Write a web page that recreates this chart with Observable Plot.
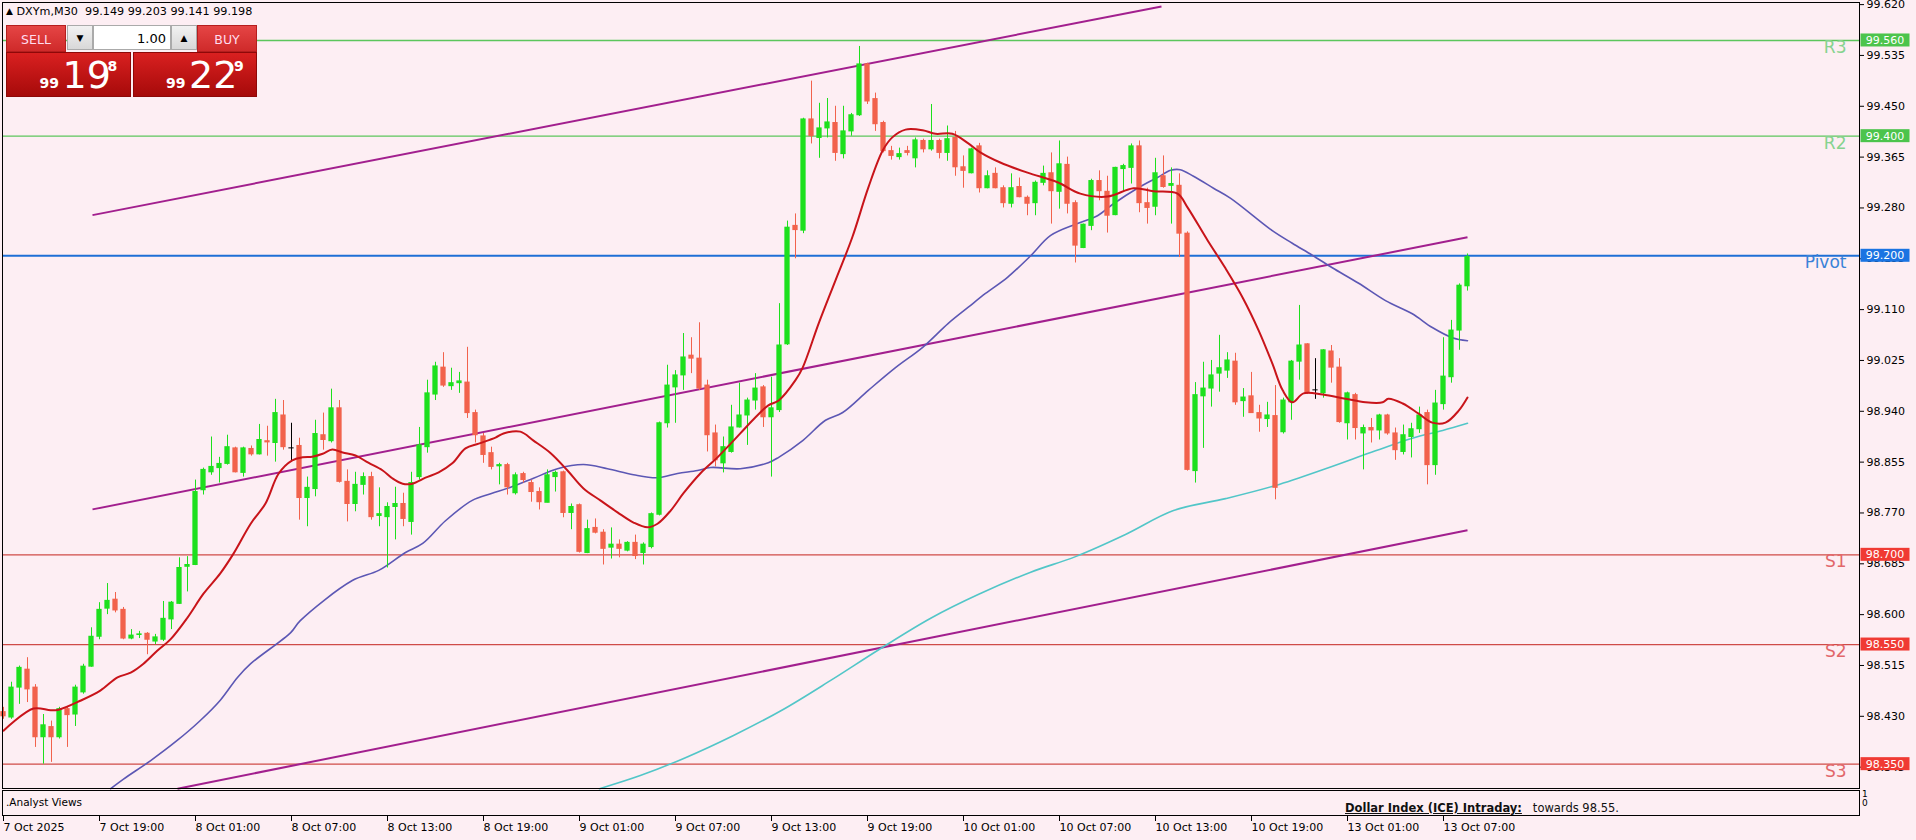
<!DOCTYPE html>
<html><head><meta charset="utf-8">
<script src="https://cdn.jsdelivr.net/npm/d3@7"></script>
<script src="https://cdn.jsdelivr.net/npm/@observablehq/plot@0.6"></script>
<style>
html,body{margin:0;padding:0;background:#fdeef3;}
#wrap{position:relative;width:1916px;height:840px;overflow:hidden;font-family:"DejaVu Sans",sans-serif;background:#fdeef3;}
#wrap svg{position:absolute;left:0;top:0;}
.ov{position:absolute;box-sizing:border-box;}
</style></head><body><div id="wrap"></div>
<script>
// ---------- data (M30 candles, DXYm) ----------
const opens  = [98.437,98.428,98.478,98.508,98.478,98.395,98.412,98.395,98.442,98.433,98.470,98.513,98.563,98.610,98.625,98.608,98.560,98.566,98.568,98.555,98.558,98.592,98.618,98.680,98.683,98.808,98.838,98.845,98.852,98.878,98.837,98.877,98.868,98.890,98.887,98.933,98.878,98.882,98.795,98.810,98.900,98.890,98.945,98.822,98.785,98.817,98.830,98.765,98.763,98.780,98.785,98.755,98.830,98.880,98.968,99.013,98.982,98.987,98.988,98.937,98.898,98.870,98.848,98.850,98.803,98.835,98.820,98.805,98.787,98.830,98.838,98.770,98.783,98.703,98.745,98.737,98.712,98.717,98.707,98.720,98.703,98.713,98.767,98.920,98.980,99.000,99.033,99.028,98.983,98.903,98.853,98.872,98.913,98.933,98.958,98.980,98.930,98.942,99.052,99.250,99.242,99.428,99.397,99.413,99.422,99.370,99.408,99.435,99.520,99.462,99.422,99.375,99.365,99.375,99.363,99.392,99.378,99.392,99.372,99.397,99.348,99.338,99.383,99.313,99.337,99.313,99.287,99.315,99.297,99.288,99.322,99.338,99.307,99.352,99.288,99.213,99.250,99.325,99.307,99.268,99.345,99.347,99.383,99.288,99.282,99.333,99.317,99.317,99.237,98.840,98.965,98.978,99.003,99.008,99.023,98.957,98.965,98.937,98.927,98.932,98.905,98.955,99.023,99.052,98.975,98.970,99.040,99.013,98.920,98.967,98.903,98.912,98.908,98.933,98.903,98.872,98.897,98.910,98.937,98.850,98.952,98.997,99.075,99.149];
const highs  = [98.445,98.487,98.514,98.528,98.483,98.433,98.422,98.445,98.445,98.482,98.517,98.578,98.620,98.652,98.637,98.612,98.575,98.572,98.570,98.567,98.622,98.622,98.695,98.697,98.825,98.845,98.897,98.863,98.900,98.880,98.880,98.882,98.918,98.915,98.960,98.958,98.920,98.895,98.830,98.925,98.937,98.977,98.958,98.842,98.838,98.837,98.838,98.812,98.787,98.813,98.803,98.838,98.913,98.992,99.022,99.038,99.012,99.005,99.047,98.942,98.903,98.880,98.853,98.853,98.837,98.838,98.825,98.812,98.842,98.840,98.840,98.785,98.785,98.758,98.760,98.742,98.745,98.725,98.722,98.733,98.720,98.770,98.922,99.017,99.008,99.070,99.063,99.088,98.992,98.917,98.897,98.950,98.987,98.962,99.003,98.983,98.997,99.120,99.258,99.270,99.430,99.492,99.455,99.463,99.450,99.450,99.438,99.550,99.522,99.472,99.425,99.383,99.380,99.383,99.397,99.395,99.453,99.395,99.417,99.408,99.367,99.380,99.388,99.342,99.347,99.317,99.337,99.330,99.300,99.325,99.350,99.372,99.392,99.365,99.292,99.253,99.328,99.342,99.333,99.348,99.353,99.387,99.392,99.313,99.363,99.367,99.347,99.337,99.240,98.988,99.022,99.025,99.067,99.038,99.037,98.978,99.005,98.950,98.955,98.983,98.962,99.025,99.117,99.053,99.028,99.043,99.050,99.028,98.972,98.970,98.917,98.928,98.935,98.935,98.912,98.917,98.920,98.947,98.942,98.975,99.063,99.092,99.153,99.203];
const lows   = [98.425,98.425,98.450,98.453,98.378,98.350,98.353,98.392,98.378,98.413,98.467,98.512,98.558,98.600,98.603,98.558,98.558,98.560,98.533,98.550,98.555,98.575,98.617,98.638,98.682,98.800,98.833,98.820,98.850,98.837,98.830,98.865,98.867,98.865,98.855,98.875,98.855,98.758,98.747,98.797,98.875,98.887,98.820,98.755,98.772,98.800,98.758,98.747,98.678,98.725,98.747,98.733,98.825,98.870,98.958,98.980,98.975,98.970,98.928,98.887,98.853,98.842,98.817,98.800,98.800,98.820,98.788,98.775,98.787,98.805,98.762,98.742,98.703,98.702,98.735,98.683,98.693,98.695,98.705,98.692,98.683,98.710,98.765,98.912,98.920,98.975,99.003,98.975,98.872,98.847,98.837,98.870,98.912,98.883,98.942,98.913,98.830,98.938,99.050,99.195,99.237,99.387,99.363,99.397,99.358,99.362,99.400,99.433,99.453,99.408,99.372,99.360,99.360,99.367,99.347,99.372,99.375,99.362,99.358,99.333,99.313,99.337,99.305,99.312,99.312,99.280,99.280,99.297,99.267,99.267,99.317,99.253,99.278,99.270,99.188,99.212,99.242,99.292,99.238,99.267,99.308,99.320,99.272,99.253,99.267,99.313,99.253,99.197,98.840,98.820,98.878,98.947,98.972,98.995,98.950,98.930,98.937,98.905,98.913,98.792,98.902,98.925,98.992,98.968,98.960,98.962,98.987,98.920,98.892,98.892,98.842,98.887,98.892,98.900,98.858,98.867,98.862,98.903,98.817,98.833,98.942,98.987,99.042,99.141];
const closes = [98.430,98.478,98.511,98.475,98.395,98.415,98.395,98.442,98.432,98.478,98.513,98.563,98.608,98.623,98.607,98.560,98.565,98.567,98.558,98.562,98.593,98.620,98.678,98.683,98.805,98.842,98.847,98.852,98.880,98.838,98.878,98.868,98.892,98.888,98.937,98.880,98.878,98.795,98.812,98.902,98.892,98.945,98.822,98.785,98.817,98.830,98.763,98.768,98.780,98.785,98.760,98.820,98.883,98.970,99.015,98.983,98.987,98.990,98.937,98.900,98.867,98.847,98.850,98.813,98.833,98.825,98.805,98.788,98.833,98.837,98.770,98.780,98.705,98.743,98.737,98.710,98.717,98.710,98.720,98.698,98.717,98.768,98.920,98.983,99.000,99.030,99.028,98.978,98.900,98.858,98.880,98.913,98.933,98.958,98.978,98.930,98.945,99.050,99.247,99.243,99.428,99.400,99.413,99.423,99.372,99.408,99.435,99.520,99.458,99.420,99.375,99.367,99.370,99.372,99.393,99.378,99.392,99.372,99.395,99.348,99.342,99.378,99.313,99.333,99.313,99.288,99.313,99.298,99.287,99.322,99.337,99.308,99.353,99.287,99.217,99.252,99.325,99.308,99.267,99.347,99.350,99.383,99.288,99.280,99.338,99.315,99.320,99.237,98.842,98.967,98.978,99.000,99.012,99.025,98.955,98.963,98.937,98.928,98.933,98.812,98.958,99.023,99.050,98.970,98.975,99.042,99.013,98.922,98.970,98.912,98.912,98.908,98.933,98.903,98.875,98.900,98.910,98.933,98.850,98.953,98.998,99.075,99.150,99.198];

// moving averages: [bar, price]
const maRed = [[0,98.406],[3.75,98.443],[5.9,98.440],[6.9,98.441],[9.6,98.456],[12.1,98.473],[14.25,98.495],[15.9,98.503],[17.5,98.518],[19.25,98.540],[20.9,98.559],[23,98.595],[25,98.635],[27.1,98.669],[28.75,98.702],[30.9,98.752],[32.75,98.786],[34.4,98.836],[36.1,98.858],[37.4,98.863],[38.6,98.864],[39.9,98.869],[41.1,98.876],[42.4,98.871],[44,98.866],[45.6,98.854],[47.4,98.841],[48.6,98.828],[49.9,98.819],[51.1,98.819],[52.75,98.829],[54.4,98.838],[56.1,98.853],[57.75,98.878],[59.4,98.886],[61.5,98.896],[62.5,98.903],[64.6,98.906],[66.25,98.891],[68.4,98.870],[70.5,98.841],[72.5,98.811],[74.6,98.791],[76.75,98.771],[78.75,98.754],[80.5,98.746],[81.75,98.752],[83.4,98.774],[85,98.803],[87.1,98.836],[89.25,98.863],[90.9,98.886],[92.1,98.903],[94,98.930],[95.6,98.950],[96.9,98.958],[99,98.992],[99.9,99.013],[101.9,99.087],[104,99.159],[106.1,99.231],[108.1,99.314],[109.9,99.376],[111.1,99.398],[112.75,99.411],[114.9,99.410],[116.5,99.404],[118.6,99.404],[120.6,99.388],[122.1,99.373],[124.6,99.356],[128,99.339],[131.75,99.323],[134.6,99.304],[138,99.299],[141.25,99.313],[143.75,99.308],[146.75,99.304],[148,99.281],[150.5,99.226],[152.75,99.179],[154.9,99.130],[156.9,99.075],[158.6,99.020],[159.9,98.975],[161.1,98.955],[162.5,98.970],[164.9,98.968],[167.75,98.961],[170.25,98.955],[172.4,98.955],[173.1,98.961],[174.9,98.953],[176.9,98.936],[178.6,98.921],[180.25,98.921],[181.9,98.941],[183,98.963]];
const maBlue = [[13.4,98.309],[15,98.325],[18.4,98.356],[21.75,98.390],[24.6,98.423],[27.1,98.457],[29.25,98.495],[30.9,98.518],[35.9,98.570],[37.1,98.590],[43.6,98.657],[46.9,98.674],[50.25,98.704],[52.4,98.719],[55.25,98.757],[58.6,98.791],[60.9,98.802],[63.4,98.813],[66.25,98.828],[69.25,98.844],[72.5,98.851],[75.5,98.844],[78.75,98.834],[81.75,98.829],[84.25,98.836],[86.75,98.841],[88.4,98.846],[92.1,98.844],[95.6,98.854],[96.9,98.863],[99.9,98.891],[102.75,98.925],[104.9,98.938],[108.1,98.975],[111.5,99.013],[114.9,99.047],[118.1,99.087],[120.6,99.114],[122.75,99.137],[125.5,99.164],[128.4,99.200],[130.9,99.234],[134.25,99.254],[136.75,99.267],[138.75,99.287],[141.75,99.313],[144.25,99.331],[145.9,99.343],[147.1,99.344],[148.75,99.333],[151.25,99.313],[153.4,99.296],[158.6,99.242],[161.1,99.221],[163.6,99.201],[166.1,99.180],[169.4,99.154],[172.75,99.125],[176.1,99.103],[178.6,99.080],[181.1,99.063],[183,99.058]];
const maCyan = [[74.5,98.309],[79.6,98.331],[85.1,98.360],[91.25,98.398],[97.4,98.441],[103.4,98.490],[109.6,98.543],[115.9,98.594],[121.9,98.634],[128.4,98.671],[134,98.697],[140.25,98.734],[146.25,98.774],[152.75,98.794],[159,98.816],[165.25,98.844],[171.5,98.874],[176.1,98.895],[179.9,98.908],[183,98.920]];

// channel trend lines: [bar1, price1, bar2, price2]
const channelLines = [[11.125,99.268,144.75,99.617],[11.125,98.776,183,99.231],[21.75,98.309,183,98.741]];

// pivot levels
const levelNames  = ["R3","R2","Pivot","S1","S2","S3"];
const levelValues = [99.560,99.400,99.200,98.700,98.550,98.350];
const levelKinds  = ["res","res","pivot","sup","sup","sup"];

// axis ticks
const priceTicks = d3.range(16).map(k => +(99.620 - k*0.085).toFixed(3));
const timeTickBars = d3.range(16).map(k => k*12);
const timeTickLabels = ["7 Oct 2025","7 Oct 19:00","8 Oct 01:00","8 Oct 07:00","8 Oct 13:00","8 Oct 19:00","9 Oct 01:00","9 Oct 07:00","9 Oct 13:00","9 Oct 19:00","10 Oct 01:00","10 Oct 07:00","10 Oct 13:00","10 Oct 19:00","13 Oct 01:00","13 Oct 07:00"];

// ---------- styling ----------
const BULL = "#1de01d", BEAR = "#f2624c", DOJI = "#000000";
const lineColor  = {res:"#5cc65c", pivot:"#1e6fd6", sup:"#cf4b47"};
const labelColor = {res:"#86d38f", pivot:"#3a82d8", sup:"#e2676a"};
const boxColor   = {res:"#4cc44c", pivot:"#1a74e2", sup:"#f03a33"};

const candles = opens.map((o,i) => ({i, o, h: highs[i], l: lows[i], c: closes[i]}));
const cColor = d => d.c > d.o ? BULL : d.c < d.o ? BEAR : DOJI;
const levels = levelNames.map((n,k) => ({name:n, value:levelValues[k], kind:levelKinds[k]}));
const chan = channelLines.map(([a,b,c,d]) => ({x1:a,y1:b,x2:c,y2:d}));

const plot = Plot.plot({
  width: 1916, height: 840,
  marginLeft: 3, marginRight: 57, marginTop: 4, marginBottom: 24,
  style: {background: "transparent", fontFamily: "DejaVu Sans, sans-serif", fontSize: "11px", color: "#000", overflow: "visible"},
  x: {type: "linear", domain: [0, 232], range: [3, 1859]},
  y: {type: "linear", domain: [98.3093, 99.62], range: [788, 4.1]},
  marks: [
    Plot.ruleY(levels, {y: "value", stroke: d => lineColor[d.kind], strokeWidth: d => d.kind === "pivot" ? 2 : 1.3}),
    Plot.text(levels, {y: "value", text: "name", frameAnchor: "right", dx: -13, dy: 7, textAnchor: "end", fill: d => labelColor[d.kind], fontSize: 17}),
    Plot.link(chan, {x1: "x1", y1: "y1", x2: "x2", y2: "y2", stroke: "#a21f8e", strokeWidth: 2}),
    Plot.line(maCyan, {x: d => d[0], y: d => d[1], stroke: "#52c6c8", strokeWidth: 1.6, curve: "catmull-rom"}),
    Plot.line(maBlue, {x: d => d[0], y: d => d[1], stroke: "#5c57b4", strokeWidth: 1.6, curve: "catmull-rom"}),
    Plot.ruleX(candles, {x: "i", y1: "l", y2: "h", stroke: cColor, strokeWidth: 1}),
    Plot.rect(candles, {x1: d => d.i - 0.33, x2: d => d.i + 0.33, y1: d => Math.min(d.o, d.c), y2: d => Math.max(d.o, d.c), fill: cColor, insetTop: -0.5, insetBottom: -0.5}),
    Plot.line(maRed, {x: d => d[0], y: d => d[1], stroke: "#c8141a", strokeWidth: 2, curve: "catmull-rom"}),
    Plot.axisY({anchor: "right", ticks: priceTicks, tickFormat: d => d.toFixed(3), tickSize: 4, tickPadding: 3, fontSize: 11, label: null}),
    Plot.axisX({anchor: "bottom", ticks: timeTickBars, tickFormat: d => timeTickLabels[timeTickBars.indexOf(d)], tickSize: 5, tickPadding: 2, textAnchor: "start", fontSize: 11, label: null})
  ]
});

const wrap = document.getElementById("wrap");
wrap.appendChild(plot);

// price tags on the right axis, positioned through the plot's scales
const ys = plot.scale("y"), xs = plot.scale("x");
const xr = xs.range[1];
const g = d3.select(plot).append("g");
levels.forEach(l => {
  const y = ys.apply(l.value);
  g.append("rect").attr("x", xr + 1.5).attr("y", y - 6.5).attr("width", 49).attr("height", 13).attr("fill", boxColor[l.kind]);
  g.append("text").attr("x", xr + 26).attr("y", y).attr("dy", "0.36em").attr("text-anchor", "middle")
    .attr("fill", "#fff").attr("font-size", 11).attr("font-family", "DejaVu Sans, sans-serif").text(l.value.toFixed(3));
});

// ---------- HTML overlays (frame, sub-window, trade panel) ----------
function ov(css, html) { const d = document.createElement("div"); d.className = "ov"; d.style.cssText = css; if (html) d.innerHTML = html; wrap.appendChild(d); return d; }
ov("left:2px;top:2px;width:1858px;height:787px;border:1px solid #000;");
ov("left:2px;top:790px;width:1858px;height:26px;border:1px solid #000;");
ov("left:6px;top:796px;font-size:10.5px;color:#000;white-space:nowrap;", ".Analyst Views");
ov("left:1862px;top:790px;font-size:9px;line-height:9px;color:#000;", "1<br>0");
ov("left:1345px;top:801px;font-size:11.5px;color:#111;white-space:nowrap;", "<b style='text-decoration:underline'>Dollar Index (ICE) Intraday:</b>&nbsp;&nbsp; towards 98.55.");
ov("left:6px;top:5px;font-size:11.2px;color:#000;white-space:nowrap;", "<span style='font-size:9px;position:relative;top:-1px'>&#9650;</span> DXYm,M30&nbsp; 99.149 99.203 99.141 99.198");

// trade panel
ov("left:6px;top:25px;width:60px;height:27px;background:linear-gradient(#e54545,#cf2a2a);color:#fde;font-size:12.5px;text-align:center;line-height:27px;border:1px solid #b51e1e;", "SELL");
ov("left:197px;top:25px;width:60px;height:27px;background:linear-gradient(#e54545,#cf2a2a);color:#fde;font-size:12.5px;text-align:center;line-height:27px;border:1px solid #b51e1e;", "BUY");
ov("left:67px;top:25px;width:26px;height:25px;background:linear-gradient(#f2f2f2,#d8d8d8);border:1px solid #aaa;font-size:9px;text-align:center;line-height:25px;color:#000;", "&#9660;");
ov("left:93px;top:25px;width:78px;height:25px;background:#fff;border:1px solid #aaa;font-size:13px;text-align:right;line-height:25px;padding-right:4px;color:#000;", "1.00");
ov("left:171px;top:25px;width:26px;height:25px;background:linear-gradient(#f2f2f2,#d8d8d8);border:1px solid #aaa;font-size:9px;text-align:center;line-height:25px;color:#000;", "&#9650;");
function priceBox(left, width, big, sup) {
  const b = ov(`left:${left}px;top:52px;width:${width}px;height:45px;background:linear-gradient(#d92020,#a60a0a);border:1px solid #8e0808;color:#fff;`);
  b.innerHTML = `<span style="position:absolute;left:${width/2-30}px;top:22px;font-size:14px;font-weight:bold;">99</span>` +
                `<span style="position:absolute;left:${width/2-7}px;top:1px;font-size:38px;line-height:42px;">${big}</span>` +
                `<span style="position:absolute;left:${width/2+38}px;top:5px;font-size:14px;font-weight:bold;">${sup}</span>`;
}
priceBox(6, 125, "19", "8");
priceBox(133, 124, "22", "9");
</script></body></html>
